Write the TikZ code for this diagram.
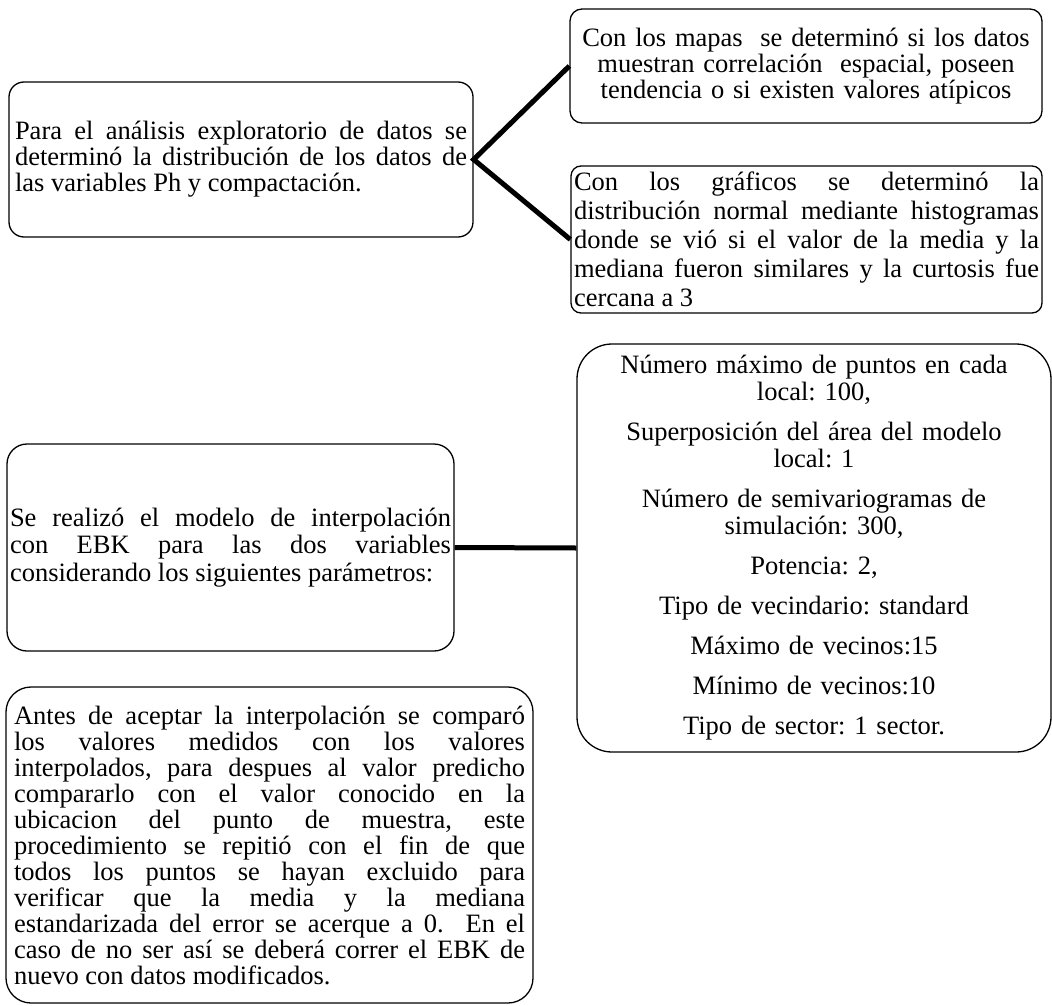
\documentclass[tikz,border=0pt]{standalone}
\usepackage{fontspec}
\setmainfont{Liberation Serif}
\usetikzlibrary{positioning}

\tikzset{
  caja/.style={draw, line width=1.3pt, align=justify, font=\fontsize{26.5}{26}\selectfont\frenchspacing},
  centrada/.style={draw, line width=1.3pt, align=center, font=\fontsize{26.5}{26}\selectfont\frenchspacing},
  enlace/.style={line width=5pt}
}

\begin{document}
\begin{tikzpicture}[x=1pt,y=-1pt]
  \useasboundingbox (0,0) rectangle (1052,1006);
  % bloque superior
  \node[caja, rounded corners=15pt, text width=452pt, inner xsep=6pt, minimum height=155pt] (analisis) at (241,159.5)
    {Para el análisis exploratorio de datos se\linebreak determinó la distribución de los datos de\linebreak las variables Ph y compactación.};
  \node[centrada, rounded corners=12pt, text width=460pt, inner xsep=6pt, minimum height=114pt] (mapas) at (806,66)
    {Con los mapas \ se determinó si los datos\\muestran correlación \ espacial, poseen\\tendencia o si existen valores atípicos};
  \node[caja, rounded corners=10pt, text width=465pt, inner xsep=3pt, minimum height=147pt, font=\fontsize{26.5}{29}\selectfont\frenchspacing] (graficos) at (806.5,239.5)
    {Con los gráficos se determinó la\linebreak distribución normal mediante histogramas\linebreak donde se vió si el valor de la media y la\linebreak mediana fueron similares y la curtosis fue\linebreak cercana a 3};
  \draw[enlace] (mapas.west) -- (analisis.east) -- (graficos.west);
  % bloque central
  \node[caja, rounded corners=20pt, text width=441pt, inner xsep=3pt, minimum height=207pt, font=\fontsize{26.5}{27.5}\selectfont\frenchspacing] (modelo) at (230.5,547.5)
    {Se realizó el modelo de interpolación\linebreak con EBK para las dos variables\linebreak considerando los siguientes parámetros:};
  \node[centrada, rounded corners=35pt, text width=462pt, inner xsep=6pt, minimum height=408pt, font=\fontsize{26.5}{27}\selectfont\frenchspacing] (parametros) at (814,548)
    {Número máximo de puntos en cada\\local: 100,\\[13pt]Superposición del área del modelo\\local: 1\\[13pt]Número de semivariogramas de\\simulación: 300,\\[13pt]Potencia: 2,\\[13pt]Tipo de vecindario: standard\\[13pt]Máximo de vecinos:15\\[13pt]Mínimo de vecinos:10\\[13pt]Tipo de sector: 1 sector.};
  \draw[enlace] (modelo.east) -- (parametros.west);
  % bloque inferior
  \node[caja, rounded corners=25pt, text width=511pt, inner xsep=8pt, minimum height=316pt] (validacion) at (269.5,845)
    {Antes de aceptar la interpolación se comparó\linebreak los valores medidos con los valores\linebreak interpolados, para despues al valor predicho\linebreak compararlo con el valor conocido en la\linebreak ubicacion del punto de muestra, este\linebreak procedimiento se repitió con el fin de que\linebreak todos los puntos se hayan excluido para\linebreak verificar que la media y la mediana\linebreak estandarizada del error se acerque a 0. \ En el\linebreak caso de no ser así se deberá correr el EBK de\linebreak nuevo con datos modificados.};
\end{tikzpicture}
\end{document}
